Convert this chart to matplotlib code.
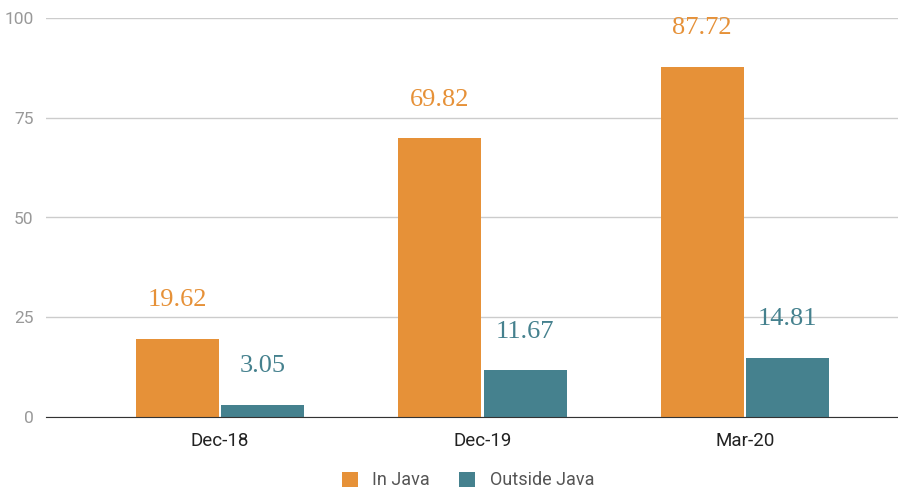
import numpy as np
import matplotlib.pyplot as plt

# data
periods = ["Dec-18", "Dec-19", "Mar-20"]
in_java = [19.62, 69.82, 87.72]
outside_java = [3.05, 11.67, 14.81]

orange = "#E69138"
teal = "#45818E"

plt.rcParams['font.family'] = ['Roboto', 'DejaVu Sans']

fig = plt.figure(figsize=(8.98, 4.91), dpi=100)
ax = fig.add_axes([46/898, 74/491, 852/898, 399/491])

x = np.arange(len(periods))
w = 0.316
b1 = ax.bar(x - 0.163, in_java, w, color=orange, label="In Java", zorder=3)
b2 = ax.bar(x + 0.163, outside_java, w, color=teal, label="Outside Java", zorder=3)

#value labels in serif, same colour as the bars
for bars, vals, col in [(b1, in_java, orange), (b2, outside_java, teal)]:
    for rect, v in zip(bars, vals):
        ax.annotate(f"{v:.2f}", (rect.get_x() + rect.get_width()/2, v),
                    xytext=(0, 28), textcoords="offset points",
                    ha="center", va="center", color=col,
                    fontsize=19, family="Liberation Serif", zorder=4)

ax.set_xlim(-0.663, 2.583)
ax.set_ylim(0, 100)
ax.set_yticks([0, 25, 50, 75, 100])
ax.set_xticks(x)
ax.set_xticklabels(periods, fontsize=13.5, color="#222222")
ax.tick_params(axis="y", colors="#999999", labelsize=12.5, length=0, pad=9)
ax.tick_params(axis="x", length=0, pad=11)
ax.grid(axis="y", color="#cccccc", linewidth=1, zorder=0)
for s in ["top", "right", "left"]:
    ax.spines[s].set_visible(False)
ax.spines["bottom"].set_color("#333333")
ax.spines["bottom"].set_zorder(5)

leg = fig.legend(handles=[b1, b2], loc="lower center", bbox_to_anchor=(0.521, -0.03),
                 ncol=2, frameon=False, fontsize=13, handlelength=0.9,
                 handleheight=0.9, columnspacing=1.6, handletextpad=0.8)
for t in leg.get_texts():
    t.set_color("#555555")

plt.savefig("out.png", dpi=100)
